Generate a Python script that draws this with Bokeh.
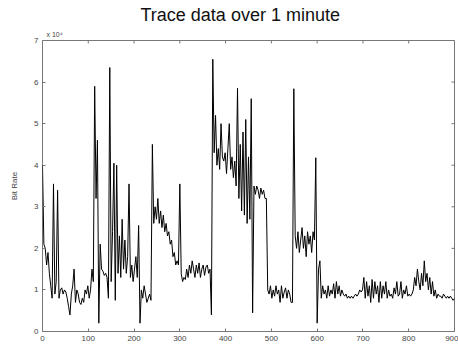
from bokeh.plotting import figure
from bokeh.models import LinearAxis, FixedTicker, Range1d, Title
from bokeh.embed import file_html
from bokeh.resources import INLINE

# ---- data (time in s, bit rate in units of 10^4) ----
time_s = list(range(0, 901, 3))
bit_rate_e4 = [
    4.0, 2.1, 2.0, 1.6, 1.9, 1.4, 1.1, 0.8, 3.55, 0.9,
    1.2, 3.4, 0.8, 1.0, 1.05, 0.9, 1.0, 0.95, 0.8, 0.6,
    0.4, 0.9, 1.1, 1.5, 0.7, 1.0, 0.9, 0.7, 0.65, 0.8,
    0.7, 1.0, 0.9, 1.1, 0.8, 1.0, 1.5, 1.2, 5.9, 3.2,
    4.6, 0.2, 2.1, 1.5, 1.45, 1.35, 1.4, 1.3, 0.8, 6.35,
    1.2, 2.4, 4.05, 0.75, 4.0, 1.4, 2.3, 1.3, 2.7, 1.5,
    2.2, 1.4, 1.8, 3.55, 1.3, 1.6, 1.2, 1.5, 1.8, 1.3,
    2.55, 0.2, 1.0, 0.8, 1.1, 0.9, 0.7, 0.8, 0.9, 0.75,
    4.5, 2.6, 3.0, 2.7, 3.2, 2.6, 2.9, 2.5, 2.8, 2.4,
    2.6, 2.3, 2.4, 2.1, 2.2, 1.8, 1.9, 1.6, 1.7, 1.6,
    3.55, 1.4, 1.2, 1.3, 1.25, 1.5, 1.3, 1.6, 1.4, 1.7,
    1.5, 1.3, 1.6, 1.4, 1.65, 1.3, 1.5, 1.6, 1.35, 1.55,
    1.6, 1.4, 1.5, 0.4, 6.55, 4.3, 5.2, 4.0, 4.4, 3.9,
    5.0, 4.2, 4.1, 4.3, 3.8, 4.4, 5.0, 3.9, 4.2, 3.7,
    4.1, 3.5, 5.85, 3.2, 4.5, 2.9, 4.8, 2.8, 5.1, 2.6,
    4.2, 2.7, 5.6, 0.45, 3.5, 3.3, 3.5, 3.4, 3.2, 3.45,
    3.3, 3.4, 3.2, 3.2, 1.0, 0.9, 1.1, 0.8, 1.0, 0.85,
    1.1, 0.9, 1.0, 0.7, 1.1, 0.8, 0.95, 1.05, 0.8, 1.0,
    0.9, 0.7, 0.7, 5.84, 2.3, 2.0, 2.4, 1.9, 2.2, 2.5,
    2.0, 2.3, 1.8, 2.4, 2.1, 2.3, 1.9, 2.4, 2.2, 4.18,
    0.2, 1.5, 1.7, 0.8, 1.1, 0.9, 1.0, 0.8, 1.1, 0.85,
    1.0, 0.9, 1.15, 0.8, 1.2, 0.9, 1.1, 0.85, 1.0, 0.9,
    0.85, 0.9, 0.8, 0.85, 0.8, 0.85, 0.8, 0.85, 0.9, 0.85,
    0.9, 1.0, 0.95, 1.0, 1.3, 0.8, 1.2, 0.85, 1.1, 0.7,
    1.25, 0.8, 1.2, 0.9, 1.1, 0.7, 1.2, 0.8, 1.1, 0.9,
    1.2, 0.8, 1.0, 0.85, 0.9, 0.8, 1.05, 0.9, 1.2, 0.85,
    0.9, 1.2, 0.8, 1.0, 0.9, 1.1, 0.85, 0.9, 0.85, 0.9,
    1.0, 1.3, 1.1, 1.5, 1.2, 1.0, 1.4, 1.1, 1.7, 1.2,
    1.4, 1.0, 1.3, 0.9, 1.2, 0.85, 1.0, 0.8, 0.9, 0.85,
    0.85, 0.8, 0.9, 0.85, 0.8, 0.85, 0.8, 0.85, 0.8, 0.75,
    0.8,
]
x_ticks = [0, 100, 200, 300, 400, 500, 600, 700, 800, 900]
y_ticks = [0, 1, 2, 3, 4, 5, 6, 7]
title_text = "Trace data over 1 minute"
y_label = "Bit Rate"
exponent_text = "x 10\u2074"

X_MIN, X_MAX, Y_MIN, Y_MAX = 0, 900, 0, 7

FONT = "Liberation Sans"
AX = "#777777"
LBL = "#444444"

p = figure(frame_width=412, frame_height=291,
           min_border_left=42, min_border_right=4,
           min_border_top=40, min_border_bottom=18,
           x_range=Range1d(X_MIN, X_MAX), y_range=Range1d(Y_MIN, Y_MAX),
           output_backend="svg", toolbar_location=None,
           x_axis_location=None, y_axis_location=None)

p.title.visible = False

# exponent marker (closest to the frame), then the main title above it
p.add_layout(Title(text=exponent_text, align="left", offset=4,
                   text_font=FONT, text_font_size="7px",
                   text_font_style="normal", text_color=LBL,
                   standoff=5), "above")
p.add_layout(Title(text=title_text, align="left", offset=98,
                   text_font=FONT, text_font_size="18px",
                   text_font_style="normal", text_color="#111111",
                   standoff=4), "above")

p.xgrid.visible = False
p.ygrid.visible = False
p.outline_line_color = AX
p.outline_line_width = 1
p.background_fill_color = "white"
p.border_fill_color = "white"


def style(ax):
    ax.axis_line_color = None
    ax.major_tick_in = 3
    ax.major_tick_out = 0
    ax.major_tick_line_color = AX
    ax.minor_tick_line_color = None
    ax.major_label_text_font = FONT
    ax.major_label_text_font_size = "8px"
    ax.major_label_text_color = LBL
    ax.major_label_standoff = 4


bottom = LinearAxis(ticker=FixedTicker(ticks=x_ticks))
style(bottom)
p.add_layout(bottom, "below")

left = LinearAxis(ticker=FixedTicker(ticks=y_ticks), axis_label=y_label)
style(left)
left.axis_label_text_font = FONT
left.axis_label_text_font_size = "8px"
left.axis_label_text_font_style = "normal"
left.axis_label_text_color = LBL
left.axis_label_standoff = 12
p.add_layout(left, "left")

# inward tick marks on the top and right edges of the box
tick_dy = 3 * (Y_MAX - Y_MIN) / 291
tick_dx = 3 * (X_MAX - X_MIN) / 412
p.segment(x0=x_ticks, y0=[Y_MAX] * len(x_ticks),
          x1=x_ticks, y1=[Y_MAX - tick_dy] * len(x_ticks),
          line_color=AX, line_width=1)
p.segment(x0=[X_MAX] * len(y_ticks), y0=y_ticks,
          x1=[X_MAX - tick_dx] * len(y_ticks), y1=y_ticks,
          line_color=AX, line_width=1)

p.line(time_s, bit_rate_e4, line_color="black", line_width=1)

open("out.html", "w").write(file_html(p, INLINE))
